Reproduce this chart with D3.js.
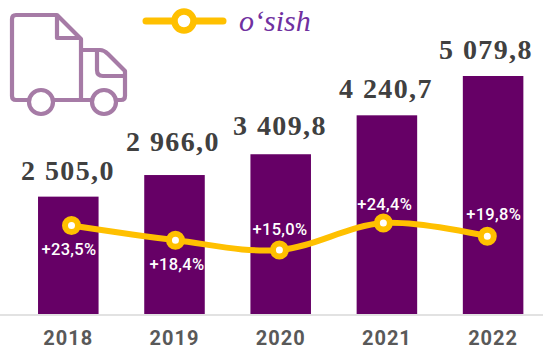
<!DOCTYPE html>
<html><head><meta charset="utf-8">
<script src="https://cdn.jsdelivr.net/npm/d3@7/dist/d3.min.js"></script>
<style>html,body{margin:0;padding:0;background:#fff}svg{display:block}</style></head>
<body><svg id="c" width="543" height="350"></svg>
<script>
const years = ["2018","2019","2020","2021","2022"];
const barValues = [2505.0,2966.0,3409.8,4240.7,5079.8];
const barLabels = ["2 505,0","2 966,0","3 409,8","4 240,7","5 079,8"];
const growth = [23.5,18.4,15.0,24.4,19.8];
const growthLabels = ["+23,5%","+18,4%","+15,0%","+24,4%","+19,8%"];
const legendName = "o‘sish";

const svg = d3.select("#c");
const x = d3.scaleBand().domain(years).range([15.2,546.2]).paddingInner(0.43).paddingOuter(0.215);
const xG = d3.scalePoint().domain(years).range([71.5,487.3]);
const y = d3.scaleLinear().domain([0,5079.8]).range([314,76]);
const yG = d3.scaleLinear().domain([15,24.4]).range([250,223]);

// truck icon
const ic = svg.append("g").attr("fill","none").attr("stroke","#a67ba6").attr("stroke-width",4.2).attr("stroke-linejoin","round");
ic.append("path").attr("d","M29 100H16Q12 100 12 96V19Q12 15 16 15H57L81 39V100M53 100H92M116 100H121Q125 100 125 96V71L108 54Q104 50 100 50H81");
ic.append("path").attr("d","M57 15V38H81M97 50V70Q97 76 103 76H125");
ic.selectAll("circle").data([41,104]).join("circle").attr("cx",d=>d).attr("cy",102).attr("r",12);

// legend
svg.append("line").attr("x1",146).attr("x2",223).attr("y1",21).attr("y2",21).attr("stroke","#ffc000").attr("stroke-width",7).attr("stroke-linecap","round");
svg.append("circle").attr("cx",184).attr("cy",21).attr("r",9.5).attr("fill","#fff").attr("stroke","#ffc000").attr("stroke-width",6.5);
svg.append("text").attr("x",239).attr("y",31).text(legendName).attr("font-family","Liberation Serif").attr("font-style","italic").attr("font-size",30).attr("fill","#7030a0");

// bars
svg.selectAll("rect.b").data(years).join("rect").attr("class","b")
  .attr("x",d=>x(d)).attr("width",x.bandwidth())
  .attr("y",(d,i)=>y(barValues[i])).attr("height",(d,i)=>314-y(barValues[i]))
  .attr("fill","#660066");

// baseline
svg.append("line").attr("x1",0).attr("x2",543).attr("y1",315).attr("y2",315).attr("stroke","#d9d9d9").attr("stroke-width",1.5);

// axis labels
const axis = d3.axisBottom(x).tickSize(0).tickPadding(0);
const ax = svg.append("g").attr("transform","translate(0,331)").call(axis);
ax.select(".domain").remove();
ax.selectAll("text").attr("font-family","Roboto").attr("font-weight",700).attr("font-size",20).attr("fill","#595959").attr("letter-spacing",1);

// value labels
const vCx = [68,173,280,386,486];
const vOff = [17,24,19,17,17];
svg.selectAll("text.v").data(years).join("text").attr("class","v")
  .attr("x",(d,i)=>vCx[i]).attr("y",(d,i)=>y(barValues[i])-vOff[i]).attr("text-anchor","middle")
  .text((d,i)=>barLabels[i]).attr("font-family","Liberation Serif").attr("font-weight",700).attr("font-size",28).attr("letter-spacing",1.4).attr("fill","#404040");

// line
const line = d3.line().x((d,i)=>xG(years[i])).y(d=>yG(d)).curve(d3.curveCatmullRom.alpha(0));
svg.append("path").attr("d",line(growth)).attr("fill","none").attr("stroke","#ffc000").attr("stroke-width",6);
svg.selectAll("circle.m").data(growth).join("circle").attr("class","m")
  .attr("cx",(d,i)=>xG(years[i])).attr("cy",d=>yG(d)).attr("r",6.5).attr("fill","#fff").attr("stroke","#ffc000").attr("stroke-width",6);

// growth labels
const gCx = [69,177,280,384.7,493.7];
const gBase = [255,270,235,210,220];
svg.selectAll("text.g").data(growth).join("text").attr("class","g")
  .attr("x",(d,i)=>gCx[i]).attr("y",(d,i)=>gBase[i]).attr("text-anchor","middle")
  .text((d,i)=>growthLabels[i]).attr("font-family","Roboto").attr("font-weight",500).attr("font-size",16.5).attr("letter-spacing",0.3).attr("fill","#fff");
</script></body></html>
